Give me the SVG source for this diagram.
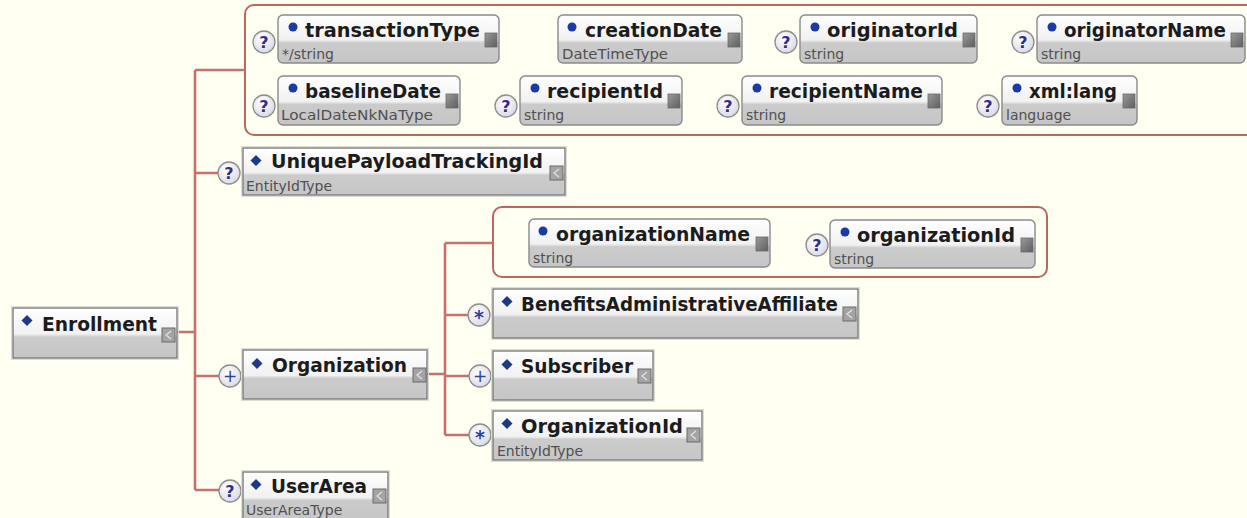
<svg xmlns="http://www.w3.org/2000/svg" width="1247" height="518" viewBox="0 0 1247 518">
  <defs>
    <linearGradient id="boxFill" x1="0" y1="0" x2="0" y2="1">
      <stop offset="0" stop-color="#ffffff"/>
      <stop offset="0.52" stop-color="#f1f1f1"/>
      <stop offset="0.58" stop-color="#cbcbcb"/>
      <stop offset="1" stop-color="#c6c6c6"/>
    </linearGradient>
    <radialGradient id="badgeFill" cx="0.4" cy="0.35" r="0.7">
      <stop offset="0" stop-color="#ffffff"/>
      <stop offset="1" stop-color="#d8d8e6"/>
    </radialGradient>
    <linearGradient id="attrIcon" x1="0" y1="0" x2="1" y2="1">
      <stop offset="0" stop-color="#9a9a9a"/>
      <stop offset="1" stop-color="#5e5e5e"/>
    </linearGradient>
    <style>
      .bg { fill: #fffff2; }
      .grp { fill: none; stroke: #c0655e; stroke-width: 2; }
      .wire { fill: none; stroke: #c8716c; stroke-width: 2.6; }
      .elem { fill: url(#boxFill); stroke: #7c7c7c; stroke-width: 1.4; }
      .halo { fill: none; stroke: #dcdcd4; stroke-width: 1; }
      .attr { fill: url(#boxFill); stroke: #8a8a8a; stroke-width: 1.4; }
      .name { font-family: "DejaVu Sans", sans-serif; font-weight: bold; font-size: 19.5px; fill: #1c1c1c; }
      .type { font-family: "DejaVu Sans", sans-serif; font-size: 14px; fill: #505050; }
      .diamond { fill: #1d3a8a; }
      .dot { fill: #1a3aa8; }
      .badge { fill: url(#badgeFill); stroke: #8e8e8e; stroke-width: 1.3; }
      .q { font-family: "DejaVu Sans", sans-serif; font-weight: bold; font-size: 16px; fill: #2e2e8e; text-anchor: middle; }
      .sym { font-family: "DejaVu Sans", sans-serif; font-size: 17px; fill: #2f40a8; text-anchor: middle; }
      .star { font-family: "DejaVu Sans", sans-serif; font-weight: bold; font-size: 19px; fill: #2f40a8; text-anchor: middle; }
      .eicon { fill: #a4a4a4; stroke: #6a6a6a; stroke-width: 1; }
      .eglyph { fill: none; stroke: #e4e4e4; stroke-width: 1.2; }
      .aicon { fill: url(#attrIcon); stroke: #6a6a6a; stroke-width: 0.8; }
    </style>
  </defs>

  <rect class="bg" x="0" y="0" width="1247" height="518"/>

  <!-- attribute groups -->
  <rect id="enrollment-attributes" class="grp" x="245" y="5" width="1010" height="130" rx="9"/>
  <rect id="organization-attributes" class="grp" x="493" y="207" width="554" height="70" rx="9"/>

  <!-- connectors -->
  <g id="connectors">
    <path class="wire" d="M177 332 H195 M195 70 V490 M195 70 H245 M195 173 H218 M195 376 H219 M195 490 H219"/>
    <path class="wire" d="M427 374 H445 M445 243 V435 M445 243 H493 M445 315 H468 M445 376 H469 M445 435 H469"/>
  </g>

  <!-- root element -->
  <g id="node-enrollment">
    <rect class="halo" x="11.5" y="306.5" width="167" height="53"/>
    <rect class="elem" x="13" y="308" width="164" height="50"/>
    <path class="diamond" d="M27 315 L32.5 320.5 L27 326 L21.5 320.5 Z"/>
    <text class="name" x="42" y="331" textLength="115" lengthAdjust="spacingAndGlyphs">Enrollment</text>
    <rect class="eicon" x="162" y="328" width="13" height="14"/>
    <path class="eglyph" d="M171 331 L166 335 L171 339"/>
  </g>

  <!-- attributes of Enrollment -->
  <g id="attr-transactionType">
    <circle class="badge" cx="264" cy="42" r="11"/>
    <text class="q" x="264" y="48">?</text>
    <rect class="attr" x="278" y="15" width="221" height="48" rx="5"/>
    <circle class="dot" cx="293" cy="27" r="4.5"/>
    <text class="name" x="305" y="37" textLength="175" lengthAdjust="spacingAndGlyphs">transactionType</text>
    <text class="type" x="282" y="59">*/string</text>
    <rect class="aicon" x="485" y="33" width="12" height="14"/>
  </g>

  <g id="attr-creationDate">
    <rect class="attr" x="558" y="15" width="184" height="48" rx="5"/>
    <circle class="dot" cx="572" cy="27" r="4.5"/>
    <text class="name" x="585" y="37" textLength="137" lengthAdjust="spacingAndGlyphs">creationDate</text>
    <text class="type" x="562" y="59" textLength="106" lengthAdjust="spacingAndGlyphs">DateTimeType</text>
    <rect class="aicon" x="728" y="33" width="12" height="14"/>
  </g>

  <g id="attr-originatorId">
    <circle class="badge" cx="786" cy="42" r="11"/>
    <text class="q" x="786" y="48">?</text>
    <rect class="attr" x="800" y="15" width="177" height="48" rx="5"/>
    <circle class="dot" cx="815" cy="27" r="4.5"/>
    <text class="name" x="827" y="37" textLength="131" lengthAdjust="spacingAndGlyphs">originatorId</text>
    <text class="type" x="804" y="59">string</text>
    <rect class="aicon" x="963" y="33" width="12" height="14"/>
  </g>

  <g id="attr-originatorName">
    <circle class="badge" cx="1023" cy="42" r="11"/>
    <text class="q" x="1023" y="48">?</text>
    <rect class="attr" x="1037" y="15" width="208" height="48" rx="5"/>
    <circle class="dot" cx="1052" cy="27" r="4.5"/>
    <text class="name" x="1064" y="37" textLength="162" lengthAdjust="spacingAndGlyphs">originatorName</text>
    <text class="type" x="1041" y="59">string</text>
    <rect class="aicon" x="1231" y="33" width="12" height="14"/>
  </g>

  <g id="attr-baselineDate">
    <circle class="badge" cx="264" cy="106" r="11"/>
    <text class="q" x="264" y="112">?</text>
    <rect class="attr" x="278" y="76" width="182" height="49" rx="5"/>
    <circle class="dot" cx="293" cy="88" r="4.5"/>
    <text class="name" x="305" y="98" textLength="136" lengthAdjust="spacingAndGlyphs">baselineDate</text>
    <text class="type" x="281" y="120" textLength="152" lengthAdjust="spacingAndGlyphs">LocalDateNkNaType</text>
    <rect class="aicon" x="446" y="94" width="12" height="14"/>
  </g>

  <g id="attr-recipientId">
    <circle class="badge" cx="506" cy="106" r="11"/>
    <text class="q" x="506" y="112">?</text>
    <rect class="attr" x="520" y="76" width="162" height="49" rx="5"/>
    <circle class="dot" cx="535" cy="88" r="4.5"/>
    <text class="name" x="547" y="98" textLength="116" lengthAdjust="spacingAndGlyphs">recipientId</text>
    <text class="type" x="524" y="120">string</text>
    <rect class="aicon" x="668" y="94" width="12" height="14"/>
  </g>

  <g id="attr-recipientName">
    <circle class="badge" cx="728" cy="106" r="11"/>
    <text class="q" x="728" y="112">?</text>
    <rect class="attr" x="742" y="76" width="200" height="49" rx="5"/>
    <circle class="dot" cx="757" cy="88" r="4.5"/>
    <text class="name" x="769" y="98" textLength="154" lengthAdjust="spacingAndGlyphs">recipientName</text>
    <text class="type" x="746" y="120">string</text>
    <rect class="aicon" x="928" y="94" width="12" height="14"/>
  </g>

  <g id="attr-xml-lang">
    <circle class="badge" cx="988" cy="106" r="11"/>
    <text class="q" x="988" y="112">?</text>
    <rect class="attr" x="1002" y="76" width="135" height="49" rx="5"/>
    <circle class="dot" cx="1017" cy="88" r="4.5"/>
    <text class="name" x="1029" y="98" textLength="88" lengthAdjust="spacingAndGlyphs">xml:lang</text>
    <text class="type" x="1006" y="120">language</text>
    <rect class="aicon" x="1123" y="94" width="12" height="14"/>
  </g>

  <!-- child elements of Enrollment -->
  <g id="node-UniquePayloadTrackingId">
    <circle class="badge" cx="229" cy="173" r="11"/>
    <text class="q" x="229" y="179">?</text>
    <rect class="halo" x="241.5" y="146.5" width="325" height="50"/>
    <rect class="elem" x="243" y="148" width="322" height="47"/>
    <path class="diamond" d="M256 155 L261.5 160.5 L256 166 L250.5 160.5 Z"/>
    <text class="name" x="271" y="168" textLength="272" lengthAdjust="spacingAndGlyphs">UniquePayloadTrackingId</text>
    <text class="type" x="246" y="191">EntityIdType</text>
    <rect class="eicon" x="550" y="166" width="13" height="14"/>
    <path class="eglyph" d="M559 169 L554 173 L559 177"/>
  </g>

  <g id="node-Organization">
    <circle class="badge" cx="230" cy="376" r="11"/>
    <text class="sym" x="230" y="382">+</text>
    <rect class="halo" x="241.5" y="348.5" width="187" height="52"/>
    <rect class="elem" x="243" y="350" width="184" height="49"/>
    <path class="diamond" d="M257 358 L262.5 363.5 L257 369 L251.5 363.5 Z"/>
    <text class="name" x="272" y="372" textLength="135" lengthAdjust="spacingAndGlyphs">Organization</text>
    <rect class="eicon" x="413" y="368" width="13" height="14"/>
    <path class="eglyph" d="M422 371 L417 375 L422 379"/>
  </g>

  <g id="node-UserArea">
    <circle class="badge" cx="230" cy="491" r="11"/>
    <text class="q" x="230" y="497">?</text>
    <rect class="halo" x="241.5" y="470.5" width="148" height="52"/>
    <rect class="elem" x="243" y="472" width="145" height="49"/>
    <path class="diamond" d="M256 479 L261.5 484.5 L256 490 L250.5 484.5 Z"/>
    <text class="name" x="271" y="493" textLength="96" lengthAdjust="spacingAndGlyphs">UserArea</text>
    <text class="type" x="246" y="515">UserAreaType</text>
    <rect class="eicon" x="373" y="489" width="13" height="14"/>
    <path class="eglyph" d="M382 492 L377 496 L382 500"/>
  </g>

  <!-- attributes of Organization -->
  <g id="attr-organizationName">
    <rect class="attr" x="529" y="219" width="241" height="48" rx="5"/>
    <circle class="dot" cx="543" cy="231" r="4.5"/>
    <text class="name" x="556" y="241" textLength="194" lengthAdjust="spacingAndGlyphs">organizationName</text>
    <text class="type" x="533" y="263">string</text>
    <rect class="aicon" x="756" y="237" width="12" height="14"/>
  </g>

  <g id="attr-organizationId">
    <circle class="badge" cx="817" cy="245" r="11"/>
    <text class="q" x="817" y="251">?</text>
    <rect class="attr" x="830" y="220" width="205" height="48" rx="5"/>
    <circle class="dot" cx="845" cy="232" r="4.5"/>
    <text class="name" x="857" y="242" textLength="158" lengthAdjust="spacingAndGlyphs">organizationId</text>
    <text class="type" x="834" y="264">string</text>
    <rect class="aicon" x="1021" y="238" width="12" height="14"/>
  </g>

  <!-- child elements of Organization -->
  <g id="node-BenefitsAdministrativeAffiliate">
    <circle class="badge" cx="479" cy="315" r="11"/>
    <text class="star" x="479" y="324">*</text>
    <rect class="halo" x="491.5" y="287.5" width="368" height="52"/>
    <rect class="elem" x="493" y="289" width="365" height="49"/>
    <path class="diamond" d="M507 296 L512.5 301.5 L507 307 L501.5 301.5 Z"/>
    <text class="name" x="521" y="311" textLength="317" lengthAdjust="spacingAndGlyphs">BenefitsAdministrativeAffiliate</text>
    <rect class="eicon" x="843" y="307" width="13" height="14"/>
    <path class="eglyph" d="M852 310 L847 314 L852 318"/>
  </g>

  <g id="node-Subscriber">
    <circle class="badge" cx="480" cy="376" r="11"/>
    <text class="sym" x="480" y="382">+</text>
    <rect class="halo" x="491.5" y="349.5" width="163" height="52"/>
    <rect class="elem" x="493" y="351" width="160" height="49"/>
    <path class="diamond" d="M507 359 L512.5 364.5 L507 370 L501.5 364.5 Z"/>
    <text class="name" x="521" y="373" textLength="112" lengthAdjust="spacingAndGlyphs">Subscriber</text>
    <rect class="eicon" x="638" y="369" width="13" height="14"/>
    <path class="eglyph" d="M647 372 L642 376 L647 380"/>
  </g>

  <g id="node-OrganizationId">
    <circle class="badge" cx="480" cy="435" r="11"/>
    <text class="star" x="480" y="444">*</text>
    <rect class="halo" x="491.5" y="409.5" width="212" height="52"/>
    <rect class="elem" x="493" y="411" width="209" height="49"/>
    <path class="diamond" d="M507 418 L512.5 423.5 L507 429 L501.5 423.5 Z"/>
    <text class="name" x="521" y="433" textLength="162" lengthAdjust="spacingAndGlyphs">OrganizationId</text>
    <text class="type" x="497" y="456">EntityIdType</text>
    <rect class="eicon" x="687" y="428" width="13" height="14"/>
    <path class="eglyph" d="M696 431 L691 435 L696 439"/>
  </g>
</svg>
